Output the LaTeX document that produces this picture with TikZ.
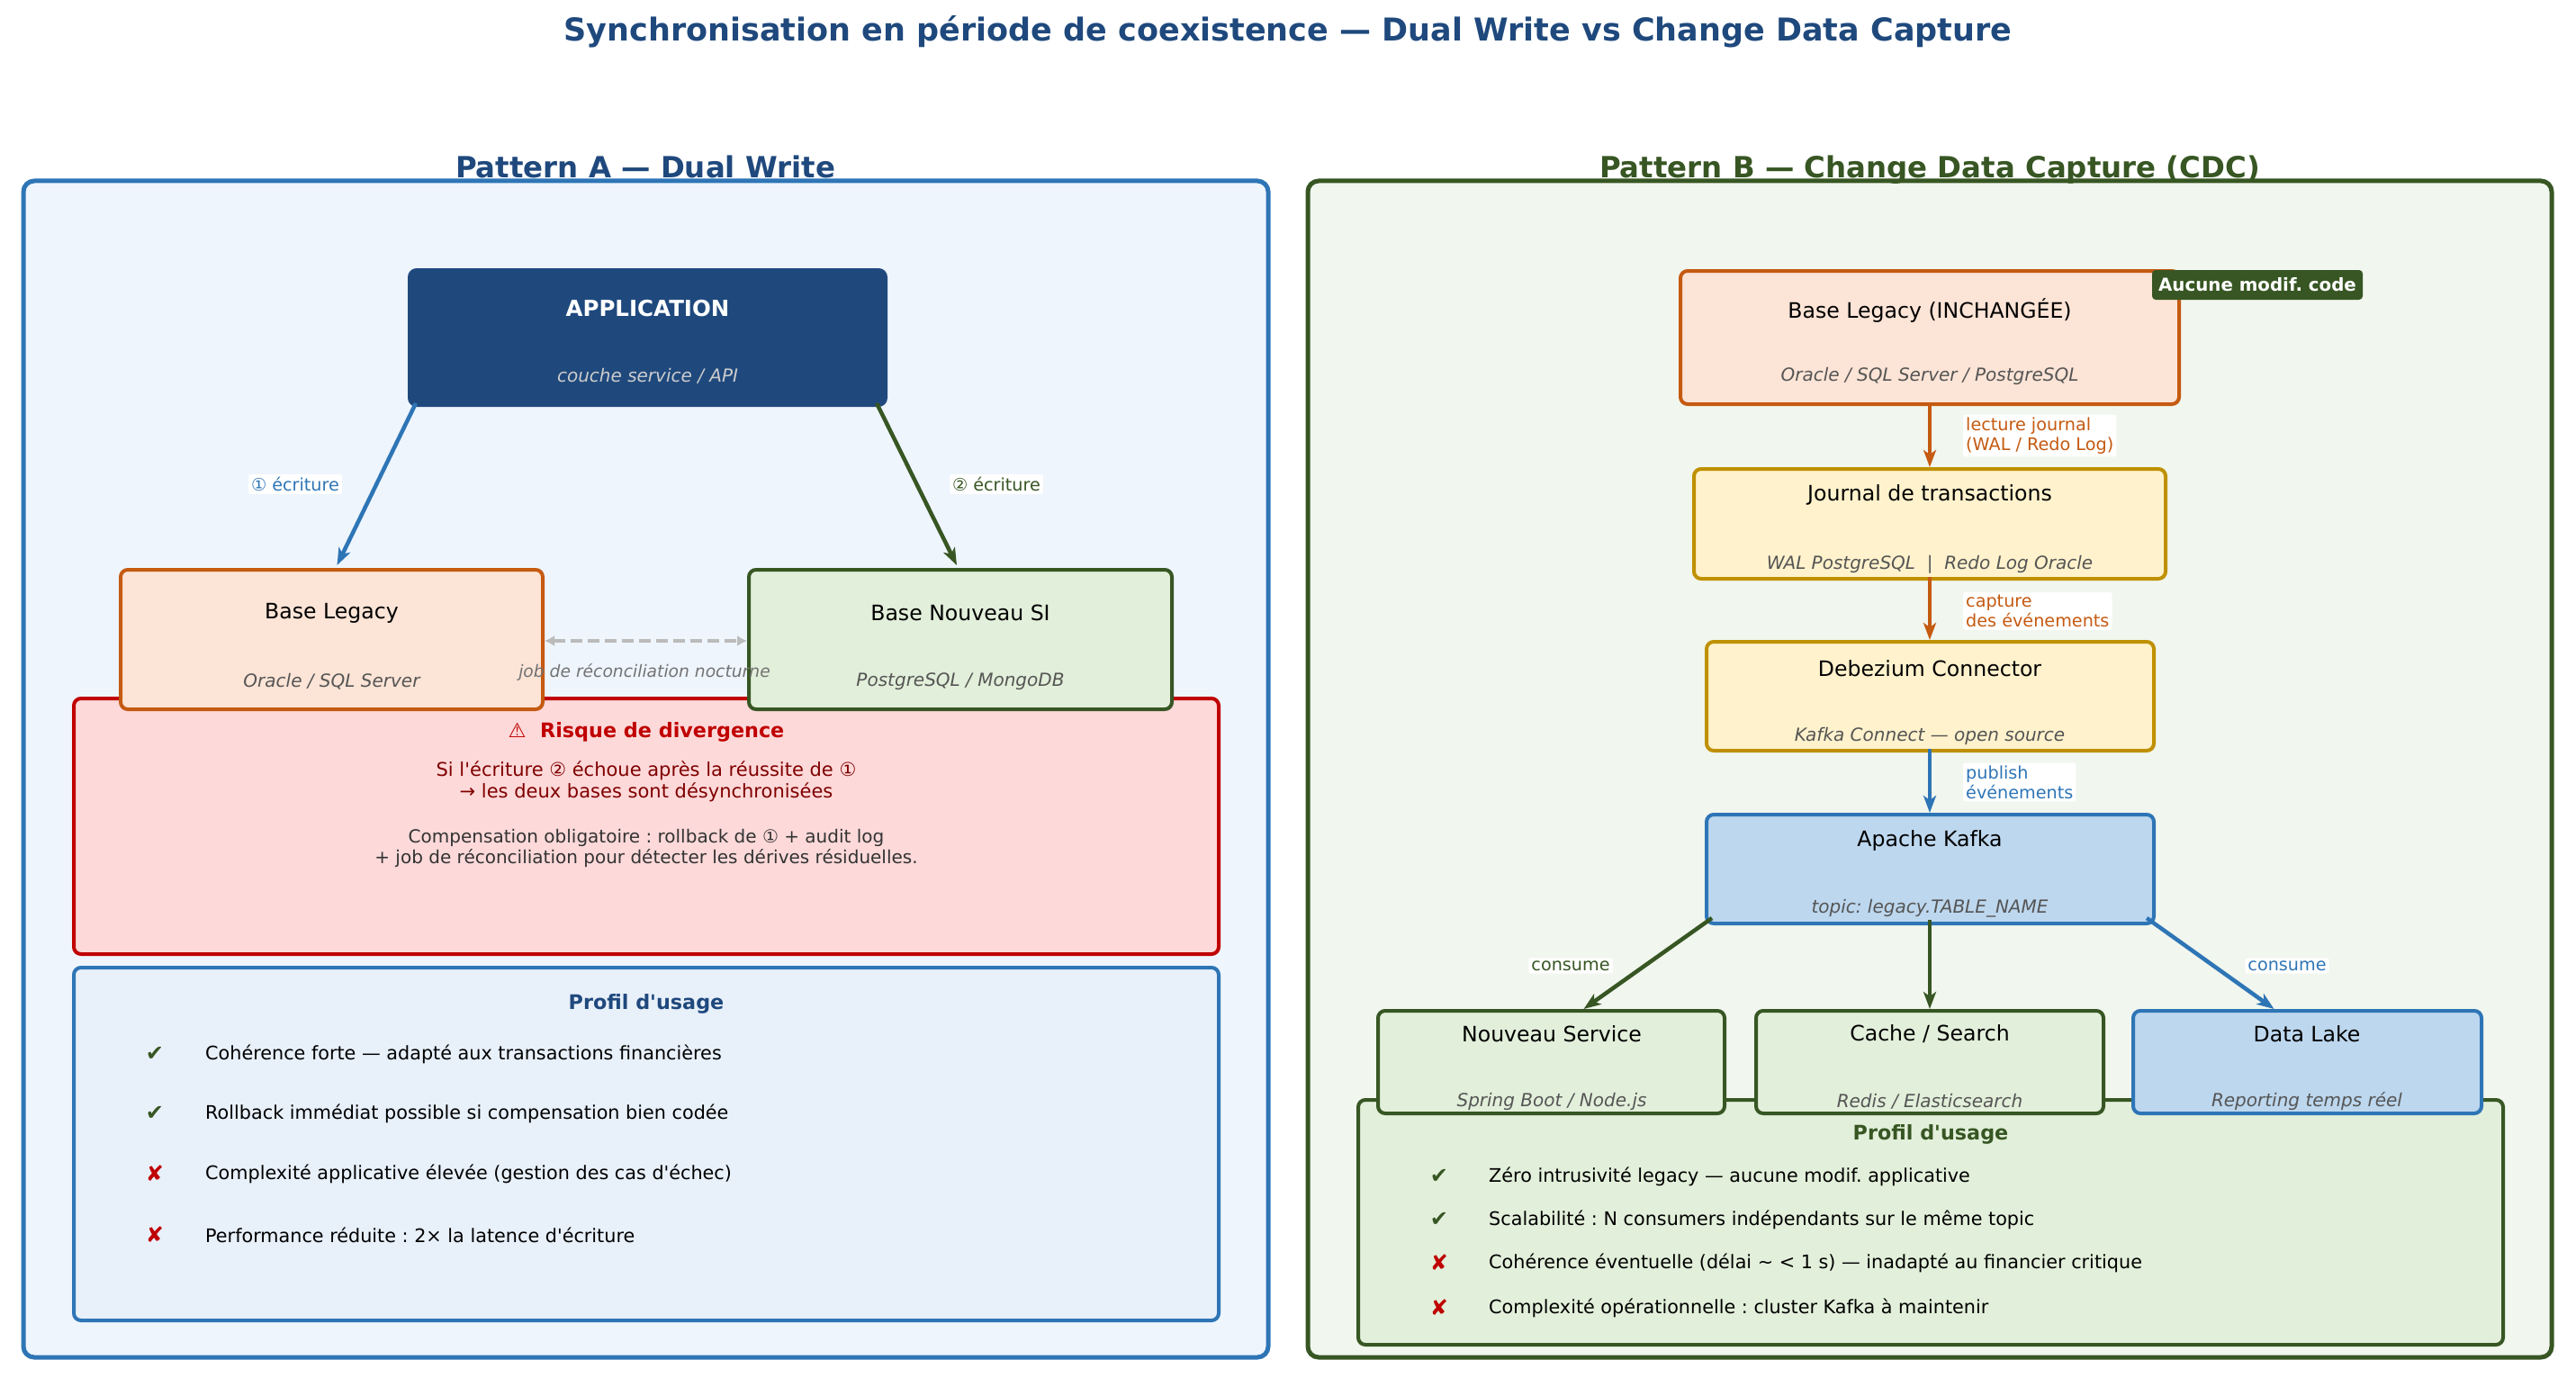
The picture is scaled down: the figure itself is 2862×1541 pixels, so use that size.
\documentclass[tikz,border=0pt]{standalone}
\usepackage{fontspec}
\setmainfont{DejaVu Sans}[Ligatures=TeXOff,ItalicFont={DejaVu Sans Oblique},BoldFont={DejaVu Sans Bold}]
\usetikzlibrary{arrows.meta,calc}
\frenchspacing
\definecolor{tblue}{HTML}{1F497D}
\definecolor{mblue}{HTML}{2E75B6}
\definecolor{dgreen}{HTML}{375623}
\definecolor{orng}{HTML}{C55A11}
\definecolor{gold}{HTML}{BF9000}
\definecolor{red1}{HTML}{C00000}
\definecolor{dred}{HTML}{800000}
\definecolor{fillA}{HTML}{EEF5FD}
\definecolor{fillB}{HTML}{F1F6EE}
\definecolor{peach}{HTML}{FCE4D6}
\definecolor{lgreen}{HTML}{E2EFDA}
\definecolor{lyellow}{HTML}{FFF2CC}
\definecolor{lblue}{HTML}{BDD7EE}
\definecolor{pinkfill}{HTML}{FDD9D9}
\definecolor{paleblue}{HTML}{E8F0FA}
\definecolor{subgray}{HTML}{555555}
\definecolor{dashgray}{HTML}{BBBBBB}
\definecolor{txtgray}{HTML}{333333}
\begin{document}
\frenchspacing
\begin{tikzpicture}[x=1pt,y=-1pt,
  panel/.style={rectangle,rounded corners=12pt,line width=5pt,inner sep=0pt},
  box/.style={rectangle,rounded corners=8pt,line width=4pt,inner sep=0pt},
  nt/.style={font=\fontsize{23.6}{28}\selectfont,inner sep=0pt},
  ns/.style={font=\fontsize{20}{24}\selectfont\itshape,text=subgray,inner sep=0pt},
  lbl/.style={font=\fontsize{19.2}{22}\selectfont,fill=white,inner sep=3pt,rounded corners=2pt,align=left},
  item/.style={font=\fontsize{20.75}{24}\selectfont,inner sep=0pt,anchor=west},
  chk/.style={font=\fontsize{24}{28}\selectfont,inner sep=0pt},
  hd/.style={font=\fontsize{22.3}{26}\selectfont\bfseries,inner sep=0pt},
  ptitle/.style={font=\fontsize{32.4}{38}\selectfont\bfseries,inner sep=0pt,anchor=base},
  arr/.style={line width=4.5pt,-{Stealth[length=19pt,width=14pt,inset=5pt]}},
]
\useasboundingbox (0,0) rectangle (2862,1541);

% title
\node[font=\fontsize{35}{42}\selectfont\bfseries,text=tblue,inner sep=0pt] (title) at (1431,35) {Synchronisation en période de coexistence — Dual Write vs Change Data Capture};

% panels
\node[panel,draw=mblue,fill=fillA,minimum width=1383,minimum height=1307] (panA) at (717.5,854.5) {};
\node[panel,draw=dgreen,fill=fillB,minimum width=1382,minimum height=1307] (panB) at (2144,854.5) {};
\node[ptitle,text=tblue] (tA) at (717,198) {Pattern A — Dual Write};
\node[ptitle,text=dgreen] (tB) at (2144,198) {Pattern B — Change Data Capture (CDC)};

% ===== Pattern A =====
\node[box,draw=red1,fill=pinkfill,minimum width=1272,minimum height=284] (risk) at (718,918) {};
\node[box,draw=mblue,fill=paleblue,minimum width=1272,minimum height=392] (profA) at (718,1271) {};
\node[box,draw=tblue,fill=tblue,minimum width=529,minimum height=150] (app) at (719.5,375) {};
\node[box,draw=orng,fill=peach,minimum width=469,minimum height=155] (blA) at (368.5,710.5) {};
\node[box,draw=dgreen,fill=lgreen,minimum width=470,minimum height=155] (nsi) at (1067,710.5) {};

\node[font=\fontsize{24.5}{29}\selectfont\bfseries,text=white,inner sep=0pt] (appT) at (719.5,343) {APPLICATION};
\node[ns,text=black!20] (appS) at (719.5,418) {couche service / API};
\node[nt] (blAT) at (368.5,681) {Base Legacy};
\node[ns] (blAS) at (368.5,757) {Oracle / SQL Server};
\node[nt] (nsiT) at (1067,681) {Base Nouveau SI};
\node[ns] (nsiS) at (1067,757) {PostgreSQL / MongoDB};

\draw[arr,draw=mblue,fill=mblue] ([xshift=9pt,yshift=4pt]app.south west) -- ([xshift=6pt,yshift=3pt]blA.north);
\draw[arr,draw=dgreen,fill=dgreen] ([xshift=-12pt,yshift=4pt]app.south east) -- ([xshift=-4pt,yshift=3pt]nsi.north);
\node[lbl,text=mblue] (l1) at (328,538) {① écriture};
\node[lbl,text=dgreen] (l2) at (1107,538) {② écriture};

\draw[line width=4pt,draw=dashgray,dash pattern=on 13pt off 6pt,{Latex[length=11pt,width=12pt]}-{Latex[length=11pt,width=12pt]}] ([yshift=-1.5pt]blA.east) -- ([yshift=-1.5pt]nsi.east -| nsi.west);
\node[font=\fontsize{18.7}{22}\selectfont\itshape,text=black!55,inner sep=0pt] (job) at (716,747) {job de réconciliation nocturne};

\node[hd,text=red1] (riskT) at (718,813) {⚠\ \ Risque de divergence};
\node[font=\fontsize{21}{24}\selectfont,text=dred,align=center,inner sep=0pt] (riskL) at (718,868) {Si l'écriture ② échoue après la réussite de ①\\→ les deux bases sont désynchronisées};
\node[font=\fontsize{20}{23}\selectfont,text=txtgray,align=center,inner sep=0pt] (riskC) at (718,942) {Compensation obligatoire : rollback de ① + audit log\\+ job de réconciliation pour détecter les dérives résiduelles.};

\node[hd,text=tblue] (profAT) at (718,1115) {Profil d'usage};
\node[chk,text=dgreen] (ca1) at (172,1171) {✔};
\node[item] (ia1) at (228,1171) {Cohérence forte — adapté aux transactions financières};
\node[chk,text=dgreen] (ca2) at (172,1237) {✔};
\node[item] (ia2) at (228,1237) {Rollback immédiat possible si compensation bien codée};
\node[chk,text=red1] (ca3) at (172,1304) {✘};
\node[item] (ia3) at (228,1304) {Complexité applicative élevée (gestion des cas d'échec)};
\node[chk,text=red1] (ca4) at (172,1372) {✘};
\node[item] (ia4) at (228,1372) {Performance réduite : 2× la latence d'écriture};

% ===== Pattern B =====
\node[box,draw=orng,fill=peach,minimum width=554,minimum height=148] (blB) at (2144,375) {};
\node[rectangle,rounded corners=4pt,fill=dgreen,minimum width=234,minimum height=33,inner sep=0pt,text=white,font=\fontsize{19.8}{23}\selectfont\bfseries] (badge) at (2508,316.5) {Aucune modif. code};
\node[box,draw=gold,fill=lyellow,minimum width=524,minimum height=122] (jrn) at (2144,582) {};
\node[box,draw=gold,fill=lyellow,minimum width=497,minimum height=121] (dbz) at (2144.5,773.5) {};
\node[box,draw=mblue,fill=lblue,minimum width=497,minimum height=121] (kfk) at (2144.5,965.5) {};
\node[box,draw=dgreen,fill=lgreen,minimum width=1272,minimum height=272] (profB) at (2145,1358) {};
\node[box,draw=dgreen,fill=lgreen,minimum width=385,minimum height=114] (svc) at (1723.5,1180) {};
\node[box,draw=dgreen,fill=lgreen,minimum width=386,minimum height=114] (cache) at (2144,1180) {};
\node[box,draw=mblue,fill=lblue,minimum width=387,minimum height=114] (lake) at (2563.5,1180) {};

\node[nt] (blBT) at (2144,345) {Base Legacy (INCHANGÉE)};
\node[ns] (blBS) at (2144,418) {Oracle / SQL Server / PostgreSQL};
\node[nt] (jrnT) at (2144,550) {Journal de transactions};
\node[ns] (jrnS) at (2144,627) {WAL PostgreSQL \ |\ \ Redo Log Oracle};
\node[nt] (dbzT) at (2144,743) {Debezium Connector};
\node[ns] (dbzS) at (2144,818) {Kafka Connect — open source};
\node[nt] (kfkT) at (2144,934) {Apache Kafka};
\node[ns] (kfkS) at (2144,1009) {topic: legacy.TABLE\_NAME};
\node[nt] (svcT) at (1724,1149) {Nouveau Service};
\node[ns] (svcS) at (1724,1224) {Spring Boot / Node.js};
\node[nt] (cacheT) at (2144,1149) {Cache / Search};
\node[ns] (cacheS) at (2144,1224) {Redis / Elasticsearch};
\node[nt] (lakeT) at (2563,1149) {Data Lake};
\node[ns] (lakeS) at (2563,1224) {Reporting temps réel};

\draw[arr,draw=orng,fill=orng] ([yshift=4pt]blB.south -| jrn.north) -- (jrn.north);
\draw[arr,draw=orng,fill=orng] ([yshift=4pt]jrn.south) -- (dbz.north -| jrn.south);
\draw[arr,draw=mblue,fill=mblue] ([yshift=4pt]dbz.south -| jrn.south) -- (kfk.north -| jrn.south);
\draw[arr,draw=dgreen,fill=dgreen] ([xshift=8pt,yshift=8pt]kfk.south west) -- ([xshift=36pt]svc.north);
\draw[arr,draw=dgreen,fill=dgreen] ([yshift=6pt]kfk.south -| jrn.south) -- (cache.north);
\draw[arr,draw=mblue,fill=mblue] ([xshift=-10pt,yshift=8pt]kfk.south east) -- ([xshift=-37pt]lake.north);

\node[lbl,text=orng,anchor=west] (lj) at (2181,484) {lecture journal\\(WAL / Redo Log)};
\node[lbl,text=orng,anchor=west] (lc) at (2181,679) {capture\\des événements};
\node[lbl,text=mblue,anchor=west] (lp) at (2181,869) {publish\\événements};
\node[lbl,text=dgreen] (lc1) at (1745,1073) {consume};
\node[lbl,text=mblue] (lc2) at (2541,1073) {consume};

\node[hd,text=dgreen] (profBT) at (2145,1260) {Profil d'usage};
\node[chk,text=dgreen] (cb1) at (1599,1307) {✔};
\node[item] (ib1) at (1654,1307) {Zéro intrusivité legacy — aucune modif. applicative};
\node[chk,text=dgreen] (cb2) at (1599,1355) {✔};
\node[item] (ib2) at (1654,1355) {Scalabilité : N consumers indépendants sur le même topic};
\node[chk,text=red1] (cb3) at (1599,1403) {✘};
\node[item] (ib3) at (1654,1403) {Cohérence éventuelle (délai \textasciitilde{} < 1 s) — inadapté au financier critique};
\node[chk,text=red1] (cb4) at (1599,1453) {✘};
\node[item] (ib4) at (1654,1453) {Complexité opérationnelle : cluster Kafka à maintenir};
\end{tikzpicture}
\end{document}
